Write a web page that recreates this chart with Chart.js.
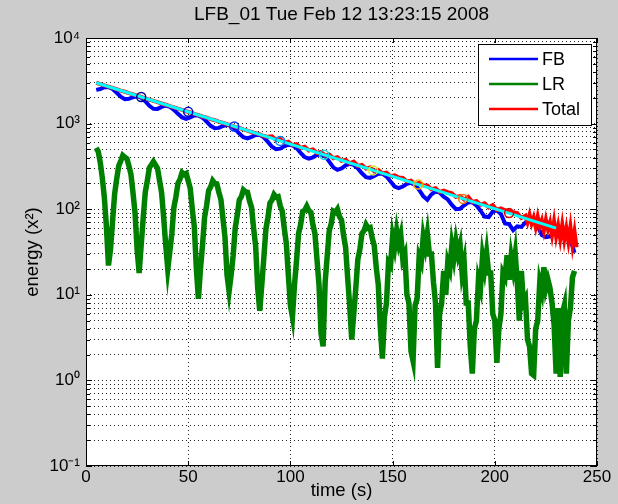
<!DOCTYPE html>
<html><head><meta charset="utf-8">
<script src="https://cdn.jsdelivr.net/npm/chart.js@4"></script>
<style>html,body{margin:0;padding:0;background:#cccccc;}#wrap{width:618px;height:504px;}</style>
</head><body><div id="wrap"><canvas id="c" width="618" height="504"></canvas></div>
<script>
// ---------------- data ----------------
const chartTitle = 'LFB_01 Tue Feb 12 13:23:15 2008';
const xTitle = 'time (s)';
const yTitle = 'energy (x²)';
const seriesNames = ['FB', 'LR', 'Total'];

const lrTime = [
5,6,7,8,9,10,11,12,13,14,15,16,17,18,19,20,21,22,23,24,
25,26,27,28,29,30,31,32,33,34,35,36,37,38,39,40,41,42,43,44,
45,46,47,48,49,50,51,52,53,54,55,56,57,58,59,60,61,62,63,64,
65,66,67,68,69,70,71,72,73,74,75,76,77,78,79,80,81,82,83,84,
85,86,87,88,89,90,91,92,93,94,95,96,97,98,99,100,101,102,103,104,
105,106,107,108,109,110,111,112,113,114,115,116,117,118,119,120,121,122,123,124,
125,126,127,128,129,130,131,132,133,134,135,136,137,138,139,140,141,142,143,144,
145,146,147,148,149,150,151,152,153,154,155,156,157,158,159,160,161,162,163,164,
165,166,167,168,169,170,171,172,173,174,175,176,177,178,179,180,181,182,183,184,
185,186,187,188,189,190,191,192,193,194,195,196,197,198,199,200,201,202,203,204,
205,206,207,208,209,210,211,212,213,214,215,216,217,218,219,220,221,222,223,224,
225,226,227,228,229,230,231,232,233,234,235,236,237,238,239];
const lrEnergy = [
520,470,350,230,135,62,22,34,72,150,225,320,365,425,405,390,320,255,155,90,
34,18,38,80,158,215,305,330,360,330,300,215,155,80,38,20,32,52,105,140,
200,225,268,255,262,215,175,100,62,20,9,20,38,80,110,165,182,215,200,198,
158,130,78,47,17,11,17,29,60,85,128,140,168,160,158,125,105,60,37,12,
6.5,13,27,58,80,118,128,148,138,140,110,95,60,40,17,7.5,5.5,13,25,52,
66,94,97,108,96,92,66,52,26,13,3.5,2.5,14,28,56,68,95,92,100,82,
75,50,36,16,7.5,3,6,12,26,34,52,56,66,60,61,46,38,21,13,4.2,
1.8,5.5,8,24,22,48,36,56,40,50,26,30,10,8,2.2,1.7,7.5,9,28,24,
48,36,52,30,30,14,8,1.4,6,8,19,10,24,20,38,27,42,30,38,18,
24,8,8,2.5,1.2,4,5,15,12,28,20,31,18,18,6,5,1.6,4,6,18,
16,29,15,28,20,30,14,5,19,8,9,3,2.5,1.2,1.15,4,5,14,11,21,
12,15,12,8,4.5,1.2,7,1.1,6,7.5,1.2,5,7,16,19];

const fbTime = [
5,7,9,11,13,15,17,19,21,23,25,27,29,31,33,35,37,39,41,43,
45,47,49,51,53,55,57,59,61,63,65,67,69,71,73,75,77,79,81,83,
85,87,89,91,93,95,97,99,101,103,105,107,109,111,113,115,117,119,121,123,
125,127,129,131,133,135,137,139,141,143,145,147,149,151,153,155,157,159,161,163,
165,167,169,171,173,175,177,179,181,183,185,187,189,191,193,195,197,199,201,203,
205,207,209,211,213,215,217,219,221,223,225,227,229,231,233,235,237,239];
const fbEnergy = [
2480,2537,2658,2681,2535,2291,2060,1932,1946,2033,2082,2011,1826,1613,1488,1485,1569,1625,1573,1448,
1300,1182,1138,1179,1243,1247,1173,1055,942,883,891,938,966,935,861,766,694,671,699,738,
739,691,611,537,502,510,542,566,558,518,456,407,390,404,430,438,414,360,308,288,
299,325,339,329,299,263,237,232,245,260,260,241,211,184,176,184,198,203,192,168,
142,129,149,161,156,140,130,112,100,101,111,120,121,111,96,82,81,94,97,88,
68,67,57,63,62,70,73,71,63,50,47,48,55,52,51,53,44,31];

const totalTime = [
5,7,9,11,13,15,17,19,21,23,25,27,29,31,33,35,37,39,41,43,
45,47,49,51,53,55,57,59,61,63,65,67,69,71,73,75,77,79,81,83,
85,87,89,91,93,95,97,99,101,103,105,107,109,111,113,115,117,119,121,123,
125,127,129,131,133,135,137,139,141,143,145,147,149,151,153,155,157,159,161,163,
165,167,169,171,173,175,177,179,181,183,185,187,189,191,193,195,197,199,201,203,
205,207,209,211,213,215,216,217,218,219,220,221,222,223,224,225,226,227,228,229,
230,231,232,233,234,235,236,237,238,239,240];
const totalEnergy = [
3000,2895,2800,2705,2608,2522,2433,2354,2270,2195,2116,2048,1974,1910,1841,1782,1717,1662,1601,1550,
1493,1446,1393,1349,1299,1258,1211,1174,1130,1095,1054,1022,983,953,916,889,855,829,797,774,
750,716,700,708,642,660,599,616,558,575,521,536,486,500,453,466,423,435,394,406,
367,379,343,360,320,329,298,307,278,287,262,267,243,249,235,232,211,216,196,203,
190,189,171,176,159,165,158,153,139,142,130,139,121,125,113,117,105,112,98,102,
97,95,92,90,79,84,70,86,68,80,62,82,63,74,56,75,58,70,50,72,
48,64,45,66,44,60,42,62,38,55,36];

const fitTime = [5, 230];
const fitEnergy = [3000, 60];

const markTime = [27, 50, 72.5, 95, 116.5, 140.5, 162.5, 184.5, 207];
const markEnergy = [2046, 1371, 927, 628, 432, 284, 194, 132, 90];
const markColors = ['#000090','#0000c8','#0030ff','#0080ff','#10d8e8','#d8e830','#ffb000','#ff7000','#e00000'];

const xTicks = [0, 50, 100, 150, 200, 250];
const yMajorTicks = [0.1, 1, 10, 100, 1000, 10000];
const yMajorLabels = ['10⁻¹', '10⁰', '10¹', '10²', '10³', '10⁴'];
const yMinorSteps = [2, 3, 4, 5, 6, 7, 8, 9];

// ---------------- fonts ----------------
const FAMILY = '"Liberation Sans", Arial, sans-serif';
const FS_TICK = 17, FS_TITLE = 19, FS_AXIS = 18.5, FS_LEG = 18;
Chart.defaults.font.family = FAMILY;
Chart.defaults.font.size = FS_TICK;
Chart.defaults.color = '#000';

function pts(xs, ys) { return xs.map((x, i) => ({x: x, y: ys[i]})); }
function isMajor(v) { return yMajorTicks.some(m => Math.abs(v - m) / m < 1e-6); }

const seriesColors = ['#0000ff', '#008000', '#ff0000'];

const framePlugin = {
  id: 'matlabFrame',
  beforeDraw(chart) {
    const {ctx, chartArea: a} = chart;
    ctx.save();
    ctx.fillStyle = '#cccccc'; ctx.fillRect(0, 0, chart.width, chart.height);
    ctx.fillStyle = '#ffffff'; ctx.fillRect(a.left, a.top, a.right - a.left, a.bottom - a.top);
    ctx.restore();
  },
  afterDatasetsDraw(chart) {
    const {ctx, chartArea: a, scales: {x, y}} = chart;
    ctx.save();
    ctx.strokeStyle = '#000'; ctx.lineWidth = 1;
    ctx.beginPath();
    x.ticks.forEach(t => {
      const px = Math.round(x.getPixelForValue(t.value)) + 0.5;
      ctx.moveTo(px, a.bottom); ctx.lineTo(px, a.bottom - 5);
      ctx.moveTo(px, a.top); ctx.lineTo(px, a.top + 5);
    });
    y.ticks.forEach(t => {
      const py = Math.round(y.getPixelForValue(t.value)) + 0.5;
      const len = isMajor(t.value) ? 6 : 4;
      ctx.moveTo(a.left, py); ctx.lineTo(a.left + len, py);
      ctx.moveTo(a.right, py); ctx.lineTo(a.right - len, py);
    });
    ctx.stroke();
    ctx.strokeRect(Math.round(a.left) + 0.5, Math.round(a.top) + 0.5, Math.round(a.right - a.left) - 1, Math.round(a.bottom - a.top) - 1);
    ctx.restore();
  },
  afterDraw(chart) {
    const {ctx, chartArea: a} = chart;
    const w = 113, h = 81;
    const lx = a.right - 6 - w, ly = a.top + 6;
    ctx.save();
    ctx.fillStyle = '#fff'; ctx.fillRect(lx, ly, w, h);
    ctx.strokeStyle = '#000'; ctx.lineWidth = 1;
    ctx.strokeRect(Math.round(lx) + 0.5, Math.round(ly) + 0.5, w, h);
    ctx.font = FS_LEG + 'px ' + FAMILY;
    ctx.textBaseline = 'middle'; ctx.textAlign = 'left';
    for (let i = 0; i < 3; i++) {
      const ds = chart.data.datasets[i];
      const yy = ly + 15 + i * 25;
      ctx.strokeStyle = ds.borderColor; ctx.lineWidth = 2.5;
      ctx.beginPath(); ctx.moveTo(lx + 11, yy); ctx.lineTo(lx + 60, yy); ctx.stroke();
      ctx.fillStyle = '#000';
      ctx.fillText(ds.label, lx + 64, yy + 1);
    }
    ctx.restore();
  }
};

const gridOpts = {color: 'rgba(0,0,0,0.85)', lineWidth: 1, drawTicks: false};
const borderOpts = {display: false, dash: [1, 3]};

new Chart(document.getElementById('c'), {
  type: 'line',
  data: {
    datasets: [
      {label: seriesNames[0], order: 5, data: pts(fbTime, fbEnergy), borderColor: seriesColors[0], borderWidth: 4, pointRadius: 0, tension: 0},
      {label: seriesNames[1], order: 4, data: pts(lrTime, lrEnergy), borderColor: seriesColors[1], borderWidth: 5.5, pointRadius: 0, tension: 0},
      {label: seriesNames[2], order: 3, data: pts(totalTime, totalEnergy), borderColor: seriesColors[2], borderWidth: 4, pointRadius: 0, tension: 0},
      {label: 'fit', order: 2, data: pts(fitTime, fitEnergy), borderColor: '#00ffff', borderWidth: 3, pointRadius: 0, tension: 0},
      {label: 'marks', order: 1, data: pts(markTime, markEnergy), showLine: false, pointRadius: 4.5, pointBorderWidth: 1.5,
       pointBorderColor: markColors, pointBackgroundColor: 'rgba(0,0,0,0)', borderColor: markColors}
    ]
  },
  options: {
    responsive: false, animation: false, devicePixelRatio: 1,
    layout: {padding: {left: 0, right: 21, top: 0, bottom: 0}},
    plugins: {
      legend: {display: false}, tooltip: {enabled: false},
      title: {display: true, text: chartTitle, fullSize: false, color: '#000',
        font: {size: FS_TITLE, weight: 'normal', lineHeight: 1.2},
        padding: {top: 15 - FS_TITLE * 0.6, bottom: 38 - FS_TITLE * 1.2 - (15 - FS_TITLE * 0.6)}}
    },
    scales: {
      x: {
        type: 'linear', min: 0, max: 250,
        afterBuildTicks: s => { s.ticks = xTicks.map(v => ({value: v})); },
        ticks: {padding: 1, maxRotation: 0, autoSkip: false, color: '#000'},
        grid: gridOpts, border: borderOpts,
        title: {display: true, text: xTitle, color: '#000', font: {size: FS_AXIS}, padding: {top: 0, bottom: 13 - FS_AXIS * 0.6}},
        afterFit: s => { s.height = 38; }
      },
      y: {
        type: 'logarithmic', min: 0.1, max: 10000,
        afterBuildTicks: s => {
          const t = [];
          yMajorTicks.forEach((m, i) => {
            t.push({value: m, major: true});
            if (i < yMajorTicks.length - 1) yMinorSteps.forEach(k => t.push({value: +(m * k).toPrecision(6), major: false}));
          });
          s.ticks = t;
        },
        ticks: {
          autoSkip: false, padding: 6, color: '#000',
          callback: (v) => { const i = yMajorTicks.findIndex(m => Math.abs(v - m) / m < 1e-6); return i >= 0 ? yMajorLabels[i] : ''; }
        },
        grid: gridOpts, border: borderOpts,
        title: {display: true, text: yTitle, color: '#000', font: {size: FS_AXIS}, padding: {top: 33 - FS_AXIS * 0.6, bottom: 0}},
        afterFit: s => { s.width = 86; }
      }
    }
  },
  plugins: [framePlugin]
});
</script></body></html>
